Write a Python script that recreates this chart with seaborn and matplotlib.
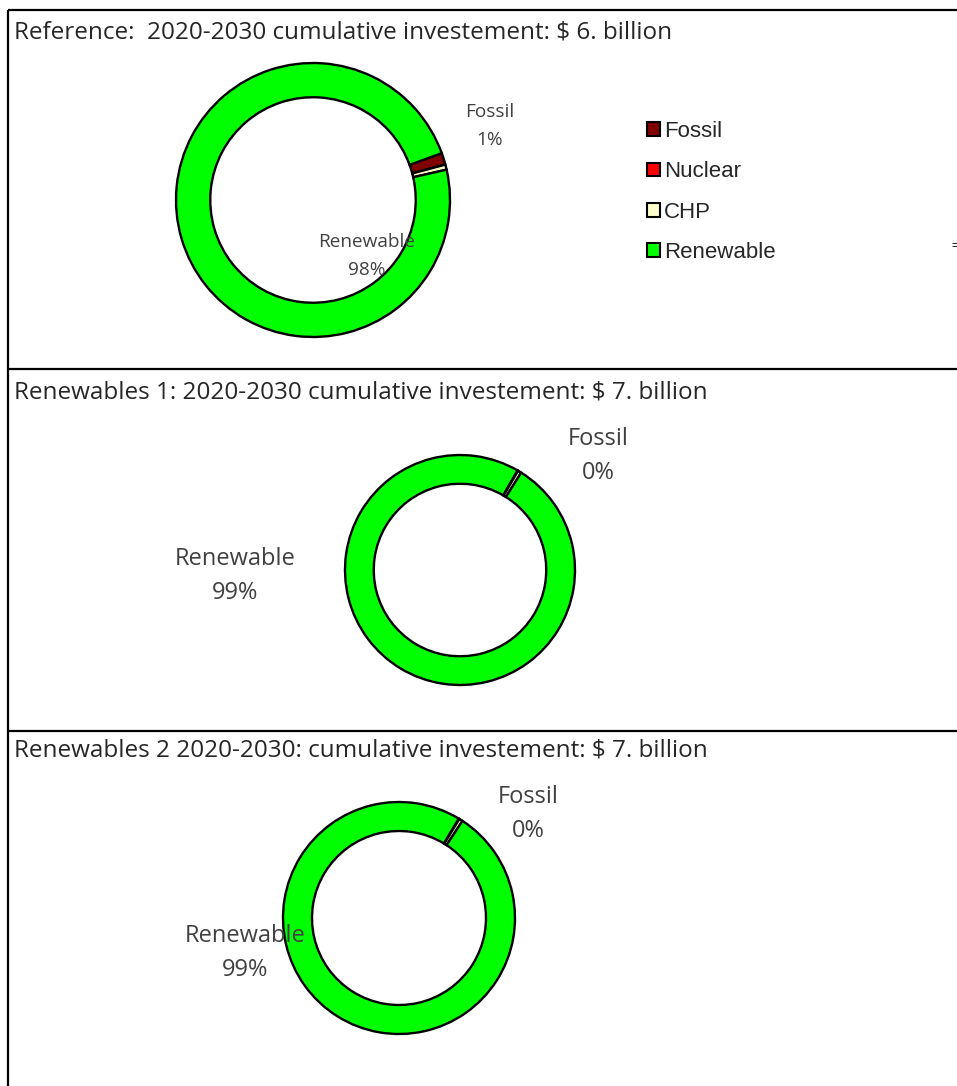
import numpy as np
import seaborn as sns
import matplotlib.pyplot as plt
from matplotlib.patches import Patch

# datos de los tres escenarios
categorias = ["Fossil", "Nuclear", "CHP", "Renewable"]
colores = ["#800000", "#FF0000", "#FFFFCC", "#00FF00"]

ref_vals = [1.4, 0.0, 0.6, 98.0]
ren1_vals = [0.1, 0.0, 0.5, 99.4]
ren2_vals = [0.1, 0.0, 0.5, 99.4]

titulos = [
    "Reference:  2020-2030 cumulative investement: $ 6. billion",
    "Renewables 1: 2020-2030 cumulative investement: $ 7. billion",
    "Renewables 2 2020-2030: cumulative investement: $ 7. billion",
]

sns.set_theme(style="white")
plt.rcParams['font.family'] = ['Open Sans', 'DejaVu Sans']

W, H = 957, 1086
fig = plt.figure(figsize=(W / 100, H / 100), dpi=100)
ax = fig.add_axes([0, 0, 1, 1])
ax.set_xlim(0, W)
ax.set_ylim(0, H)
ax.set_aspect("equal")
ax.axis("off")


def py(y):
    # coordenadas de pixel (desde arriba) a coordenadas del eje
    return H - y


def dona(vals, cx, cy, r, start, etiquetas, fs, ls):
    ax.pie(vals, colors=colores, center=(cx, py(cy)), radius=r,
           startangle=start, counterclock=False,
           wedgeprops=dict(width=r * 0.25, edgecolor="black", linewidth=1.7))
    for idx, (lx, ly) in etiquetas.items():
        ax.text(lx, py(ly), f"{categorias[idx]}\n{vals[idx]:.0f}%",
                ha="center", va="center", fontsize=fs, color="#404040",
                linespacing=ls)


# panel 1
dona(ref_vals, 313, 200, 137, 20, {0: (490, 126), 3: (367, 256)}, 13.7, 1.65)
# panel 2
dona(ren1_vals, 460, 570, 115, 60, {0: (598, 456), 3: (235, 576)}, 17, 1.6)
# panel 3
dona(ren2_vals, 399, 918, 116, 59, {0: (528, 814), 3: (245, 953)}, 17, 1.6)

ax.set_xlim(0, W)
ax.set_ylim(0, H)

# titulos
for t, y in zip(titulos, [33, 393, 751]):
    ax.text(14, py(y), t, ha="left", va="center", fontsize=17.5, color="#262626")

# bordes de los paneles
lw = 1.6
ax.plot([8, W], [py(10), py(10)], color="black", lw=lw, solid_capstyle="butt")
ax.plot([8, 8], [py(10), 0], color="black", lw=lw, solid_capstyle="butt")
ax.plot([8, W], [py(369), py(369)], color="black", lw=lw, solid_capstyle="butt")
ax.plot([8, W], [py(731), py(731)], color="black", lw=lw, solid_capstyle="butt")

# leyenda
handles = [Patch(facecolor=c, edgecolor="black", linewidth=1.5, label=n)
           for c, n in zip(colores, categorias)]
leg = ax.legend(handles=handles, loc="upper left",
                bbox_to_anchor=(647 / W, 1 - 121 / H), frameon=False,
                prop={"family": "Liberation Sans", "size": 16},
                handlelength=0.58, handleheight=0.58, handletextpad=0.2,
                labelspacing=0.87, borderpad=0, borderaxespad=0)

ax.text(951, py(246), "=", fontsize=9, color="black", ha="left", va="center",
        family="Liberation Sans")

fig.savefig("out.png", dpi=100)
